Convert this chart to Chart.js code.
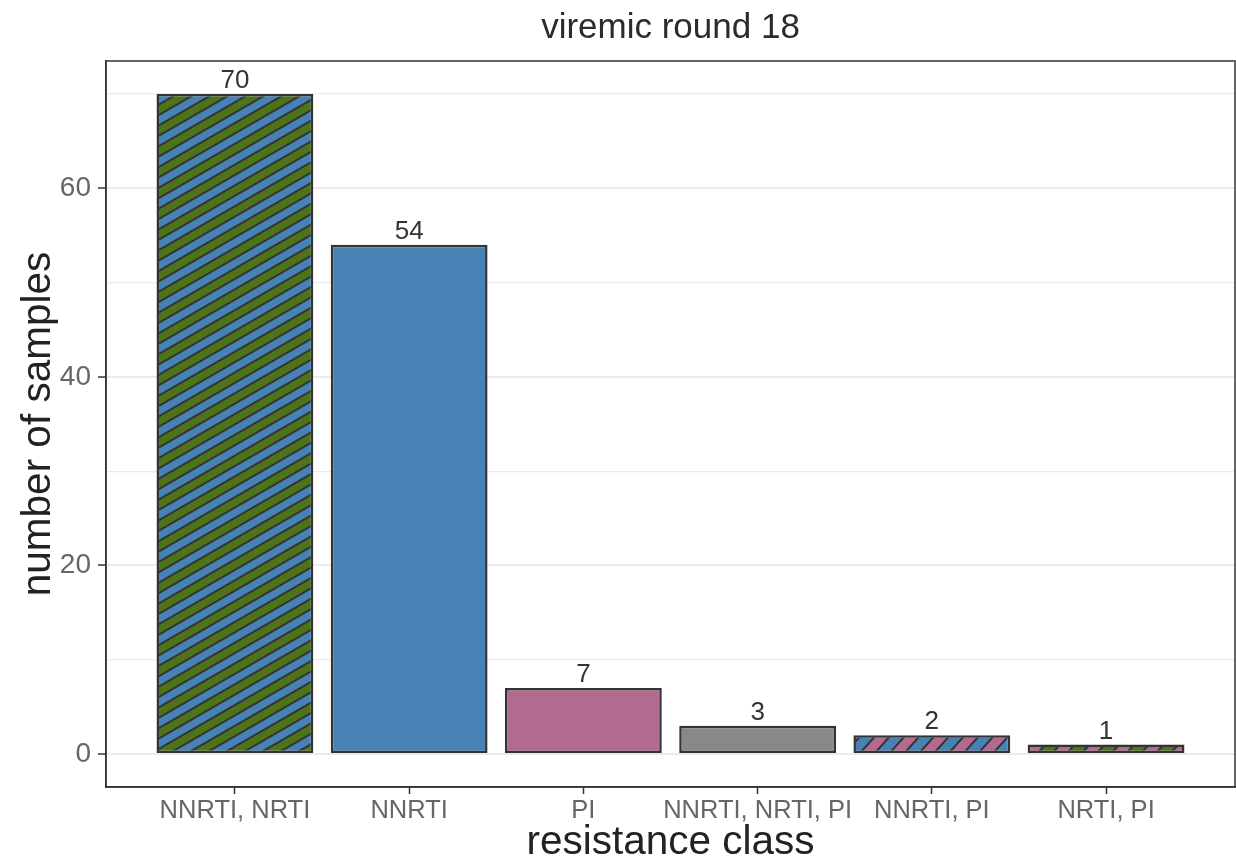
<!DOCTYPE html>
<html>
<head>
<meta charset="utf-8">
<title>viremic round 18</title>
<script src="https://cdn.jsdelivr.net/npm/chart.js@4.4.1/dist/chart.umd.min.js"></script>
<style>
  html, body { margin: 0; padding: 0; background: #ffffff; }
  #wrap { width: 1236px; height: 863px; position: relative; }
</style>
</head>
<body>
<div id="wrap"><canvas id="resistanceChart"></canvas></div>
<script>
// Data: samples per resistance class
const categories = ['NNRTI, NRTI', 'NNRTI', 'PI', 'NNRTI, NRTI, PI', 'NNRTI, PI', 'NRTI, PI'];
const sampleCounts = [70, 54, 7, 3, 2, 1];
const categoryPositions = [0, 1, 2, 3, 4, 5];

// Y axis ticks (minor grid every 10, labels every 20)
const yTickValues = [0, 10, 20, 30, 40, 50, 60, 70];
const yTickLabels = ['0', '', '20', '', '40', '', '60', ''];

const chartTitle = 'viremic round 18';
const xAxisTitle = 'resistance class';
const yAxisTitle = 'number of samples';

// Colours
const BLUE = '#4682b4';
const GREEN = '#4e741a';
const PINK = '#b36a90';
const GREY = '#888888';
const DARK = '#333333';
const FONT = '"Liberation Sans", Arial, Helvetica, sans-serif';

// Build a diagonal two-colour stripe pattern
function makeStripes(colorA, colorB, angle, band, line) {
    const period = 2 * (band + line);
    const tile = document.createElement('canvas');
    tile.width = 8;
    tile.height = period;
    const t = tile.getContext('2d');
    t.fillStyle = colorA;
    t.fillRect(0, 0, 8, band);
    t.fillStyle = DARK;
    t.fillRect(0, band, 8, line);
    t.fillStyle = colorB;
    t.fillRect(0, band + line, 8, band);
    t.fillStyle = DARK;
    t.fillRect(0, 2 * band + line, 8, line);
    const pattern = t.createPattern(tile, 'repeat');
    pattern.setTransform(new DOMMatrix().rotateSelf(-angle));
    return pattern;
}

const barFills = [
    makeStripes(BLUE, GREEN, 30, 7, 2),
    BLUE,
    PINK,
    GREY,
    makeStripes(PINK, BLUE, 48, 9, 2),
    makeStripes(GREEN, PINK, 48, 9, 2)
];

// Value labels above each bar
const valueLabels = {
    id: 'valueLabels',
    afterDatasetsDraw(chart) {
        const ctx = chart.ctx;
        const meta = chart.getDatasetMeta(0);
        ctx.save();
        ctx.font = '26px ' + FONT;
        ctx.fillStyle = DARK;
        ctx.textAlign = 'center';
        ctx.textBaseline = 'alphabetic';
        meta.data.forEach((bar, i) => {
            ctx.fillText(String(sampleCounts[i]), bar.x, bar.y - 6);
        });
        ctx.restore();
    }
};

// Full panel border like theme_bw, plus title centred over the panel
const panelBorder = {
    id: 'panelBorder',
    afterDraw(chart) {
        const a = chart.chartArea;
        const ctx = chart.ctx;
        ctx.save();
        ctx.strokeStyle = DARK;
        ctx.lineWidth = 1.5;
        ctx.strokeRect(a.left, a.top, a.right - a.left, a.bottom - a.top);
        ctx.font = '35px ' + FONT;
        ctx.fillStyle = '#2b2b2b';
        ctx.textAlign = 'center';
        ctx.textBaseline = 'alphabetic';
        ctx.fillText(chartTitle, (a.left + a.right) / 2, 37.5);
        ctx.restore();
    }
};

function createChart() {
    const ctx = document.getElementById('resistanceChart').getContext('2d');
    new Chart(ctx, {
        type: 'bar',
        data: {
            datasets: [{
                label: yAxisTitle,
                data: categoryPositions.map((x, i) => ({ x: x, y: sampleCounts[i] })),
                backgroundColor: (c) => barFills[c.dataIndex],
                borderColor: DARK,
                borderWidth: 2.5,
                borderSkipped: false,
                categoryPercentage: 0.9,
                barPercentage: 1.0
            }]
        },
        plugins: [valueLabels, panelBorder],
        options: {
            responsive: true,
            maintainAspectRatio: false,
            animation: false,
            layout: { padding: { left: 0, right: 1, top: 61, bottom: 0 } },
            plugins: {
                legend: { display: false },
                tooltip: { enabled: false },
                title: { display: false }
            },
            scales: {
                x: {
                    type: 'linear',
                    offset: false,
                    min: -0.74,
                    max: 5.74,
                    afterBuildTicks: (scale) => {
                        scale.ticks = categoryPositions.map(v => ({ value: v }));
                    },
                    afterFit: (scale) => { scale.height = 76; },
                    grid: {
                        display: true,
                        offset: false,
                        drawOnChartArea: false,
                        drawTicks: true,
                        tickLength: 7,
                        tickColor: DARK,
                        tickWidth: 1.5
                    },
                    border: { display: true, color: DARK, width: 1.5 },
                    ticks: {
                        autoSkip: false,
                        maxRotation: 0,
                        padding: 2,
                        color: '#666666',
                        font: { family: FONT, size: 25.5 },
                        callback: (value) => categories[value] ?? ''
                    },
                    title: {
                        display: true,
                        text: xAxisTitle,
                        color: '#222222',
                        font: { family: FONT, size: 40.5, lineHeight: 1 },
                        padding: { top: 0, bottom: 0 }
                    }
                },
                y: {
                    min: -3.5,
                    max: 73.5,
                    afterBuildTicks: (scale) => {
                        scale.ticks = yTickValues.map(v => ({ value: v }));
                    },
                    afterFit: (scale) => { scale.width = 106; },
                    grid: {
                        color: '#ebebeb',
                        lineWidth: (c) => (c.tick && c.tick.value % 20 === 0) ? 2 : 1.2,
                        tickLength: 8,
                        tickWidth: 1.5,
                        tickColor: (c) => (c.tick && c.tick.value % 20 === 0) ? DARK : 'rgba(0,0,0,0)'
                    },
                    border: { display: true, color: DARK, width: 1.5 },
                    ticks: {
                        autoSkip: false,
                        padding: 7,
                        color: '#666666',
                        font: { family: FONT, size: 28 },
                        callback: (value) => {
                            const idx = yTickValues.indexOf(value);
                            return idx >= 0 ? yTickLabels[idx] : '';
                        }
                    },
                    title: {
                        display: true,
                        text: yAxisTitle,
                        color: '#222222',
                        font: { family: FONT, size: 40.5, lineHeight: 1.2 },
                        padding: { top: 15, bottom: 0 }
                    }
                }
            }
        }
    });
}

createChart();
</script>
</body>
</html>
